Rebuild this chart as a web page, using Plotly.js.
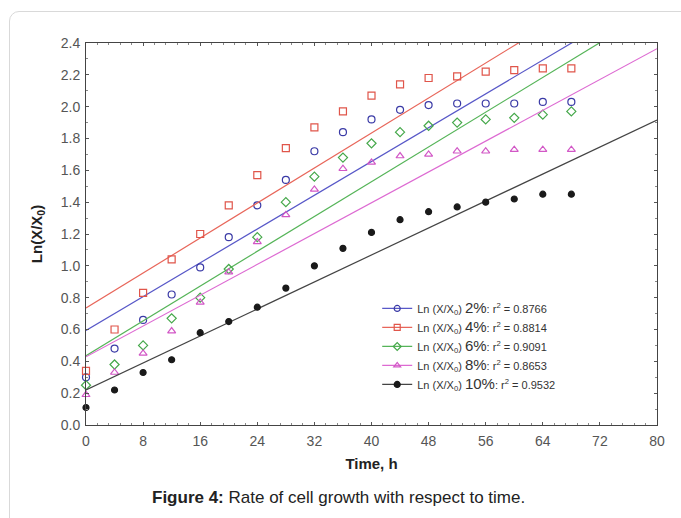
<!DOCTYPE html>
<html>
<head>
<meta charset="utf-8">
<script src="https://cdn.plot.ly/plotly-3.0.1.min.js"></script>
<style>
  html, body { margin:0; padding:0; width:681px; height:518px; overflow:hidden; background:#fff; }
  #card { position:absolute; left:9px; top:11px; width:720px; height:600px; border:1px solid #d9d9d9; border-radius:10px; box-sizing:border-box; }
  #chart { position:absolute; left:0; top:0; width:681px; height:518px; }
</style>
</head>
<body>
<div id="card"></div>
<div id="chart"></div>
<script>
// Time points (h)
const time = [0, 4, 8, 12, 16, 20, 24, 28, 32, 36, 40, 44, 48, 52, 56, 60, 64, 68];

// Ln(X/X0) per concentration
const y2  = [0.30, 0.48, 0.66, 0.82, 0.99, 1.18, 1.38, 1.54, 1.72, 1.84, 1.92, 1.98, 2.01, 2.02, 2.02, 2.02, 2.03, 2.03];
const y4  = [0.34, 0.60, 0.83, 1.04, 1.20, 1.38, 1.57, 1.74, 1.87, 1.97, 2.07, 2.14, 2.18, 2.19, 2.22, 2.23, 2.24, 2.24];
const y6  = [0.25, 0.38, 0.50, 0.67, 0.80, 0.98, 1.18, 1.40, 1.56, 1.68, 1.77, 1.84, 1.88, 1.90, 1.92, 1.93, 1.95, 1.97];
const y8  = [0.19, 0.33, 0.45, 0.59, 0.77, 0.96, 1.15, 1.32, 1.48, 1.61, 1.65, 1.69, 1.70, 1.72, 1.72, 1.73, 1.73, 1.73];
const y10 = [0.11, 0.22, 0.33, 0.41, 0.58, 0.65, 0.74, 0.86, 1.00, 1.11, 1.21, 1.29, 1.34, 1.37, 1.40, 1.42, 1.45, 1.45];

const labels = ['2%', '4%', '6%', '8%', '10%'];
const r2 = ['0.8766', '0.8814', '0.9091', '0.8653', '0.9532'];
const fitRange = [0, 80];

const series = [y2, y4, y6, y8, y10];
const colors = ['#3a3aa6', '#e0554a', '#45a84a', '#d257c6', '#1a1a1a'];
const lineColors = ['#5858c8', '#e8665a', '#55b458', '#dd6ad2', '#444444'];
const symbols = ['circle-open', 'square-open', 'diamond-open', 'triangle-up-open', 'circle'];

function linfit(x, y) {
  const n = x.length;
  const mx = x.reduce((a, b) => a + b, 0) / n;
  const my = y.reduce((a, b) => a + b, 0) / n;
  let sxy = 0, sxx = 0;
  for (let i = 0; i < n; i++) { sxy += (x[i] - mx) * (y[i] - my); sxx += (x[i] - mx) ** 2; }
  const b = sxy / sxx;
  return { a: my - b * mx, b: b };
}

const traces = [];
series.forEach((ys, i) => {
  const f = linfit(time, ys);
  traces.push({
    x: fitRange, y: fitRange.map(v => f.a + f.b * v),
    mode: 'lines', line: { color: lineColors[i], width: 1.2 },
    showlegend: false, hoverinfo: 'skip'
  });
  traces.push({
    x: time, y: ys, mode: 'markers',
    marker: { symbol: symbols[i], size: i === 4 ? 6 : 7, color: colors[i], line: { width: 1.2, color: colors[i] } },
    showlegend: false, cliponaxis: false
  });
});
// legend entries (line + marker sample)
series.forEach((ys, i) => {
  traces.push({
    x: [null], y: [null], mode: 'lines+markers',
    name: 'Ln (X/X<sub>0</sub>) <span style="font-size:15px">' + labels[i] + '</span>: r<sup>2</sup> = ' + r2[i],
    line: { color: lineColors[i], width: 1.2 },
    marker: { symbol: symbols[i], size: 6, color: colors[i], line: { width: 1.2, color: colors[i] } }
  });
});

const axisCommon = {
  showgrid: false, zeroline: false, showline: true, linecolor: '#444', linewidth: 1,
  mirror: 'allticks', ticks: 'inside', ticklen: 3, tickcolor: '#555',
  tickfont: { family: 'Liberation Sans, Arial, sans-serif', size: 14, color: '#555' }
};

const layout = {
  width: 681, height: 518,
  paper_bgcolor: 'rgba(0,0,0,0)', plot_bgcolor: '#fff',
  margin: { l: 86, r: 24, t: 43, b: 93 },
  font: { family: 'Liberation Sans, Arial, sans-serif' },
  xaxis: Object.assign({}, axisCommon, {
    range: [0, 80], tick0: 0, dtick: 8, ticklabelstandoff: 3,
    minor: { ticks: 'inside', ticklen: 2, dtick: 1.6, tickcolor: '#888' },
    title: { text: '<b>Time, h</b>', font: { size: 15, color: '#222' }, standoff: 10 }
  }),
  yaxis: Object.assign({}, axisCommon, {
    range: [0, 2.4], tick0: 0, dtick: 0.2, tickformat: '.1f', ticklabelstandoff: 2,
    minor: { ticks: 'inside', ticklen: 2, dtick: 0.1, tickcolor: '#888' },
    title: { text: '<b>Ln(X/X<sub>0</sub>)</b>', font: { size: 15, color: '#222' }, standoff: 14 }
  }),
  legend: {
    x: 0.51, y: 0.343, xanchor: 'left', yanchor: 'top',
    bgcolor: 'rgba(0,0,0,0)', borderwidth: 0,
    font: { size: 11, color: '#333' }, tracegroupgap: 0, itemwidth: 30
  },
  annotations: [{
    xref: 'paper', yref: 'paper', x: 0.443, y: -0.19, xanchor: 'center', yanchor: 'middle',
    showarrow: false, text: '<b>Figure 4:</b> Rate of cell growth with respect to time.',
    font: { size: 17, color: '#222' }
  }]
};

Plotly.newPlot('chart', traces, layout, { displayModeBar: false, staticPlot: true });
</script>
</body>
</html>
